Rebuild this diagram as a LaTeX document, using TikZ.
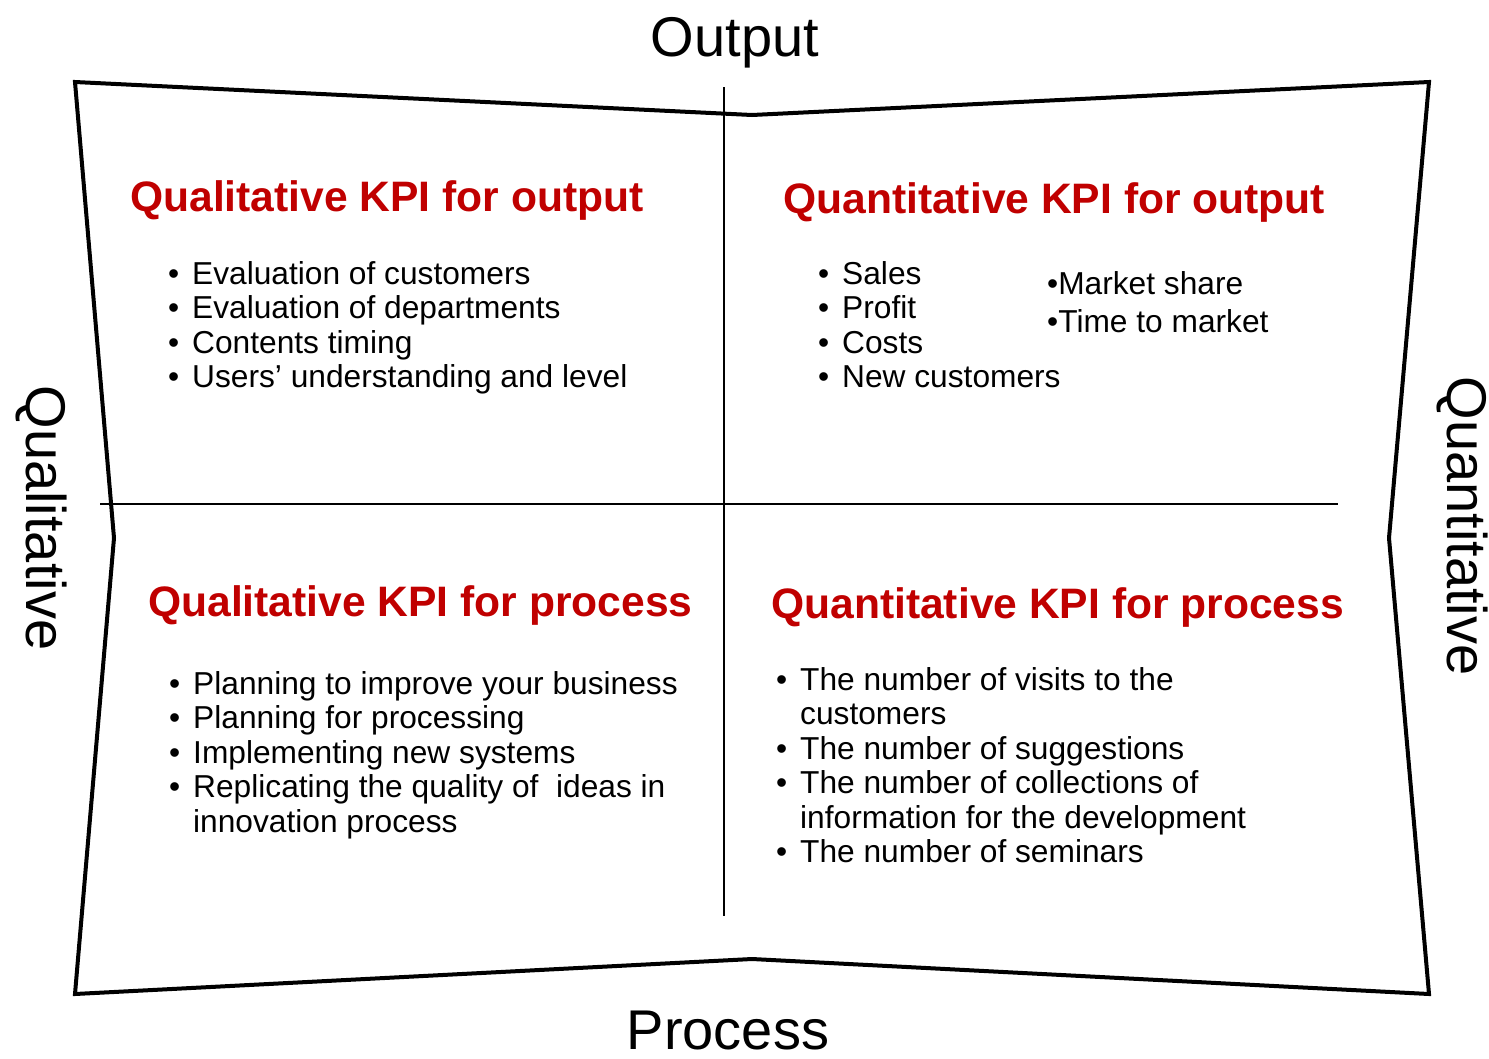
\documentclass[tikz,border=0pt]{standalone}
\usepackage{fontspec}
\setmainfont{Liberation Sans}
\definecolor{kpired}{HTML}{C00000}
% bullet hanging to the left of a list line
\newcommand{\bl}{\llap{\textbullet\hspace{13pt}}}
\newcommand{\itemlist}[1]{\begin{tabular}[t]{@{}l@{}}#1\end{tabular}}
\tikzset{
  frame/.style={line width=4pt, line join=miter},
  axisline/.style={line width=2.2pt},
  title/.style={anchor=base west, inner sep=0pt, text=kpired,
    font=\fontsize{42.6}{50}\selectfont\bfseries},
  items/.style={anchor=base west, inner sep=0pt,
    font=\fontsize{31.7}{34.5}\selectfont},
  side/.style={inner sep=0pt, font=\fontsize{56}{60}\selectfont},
}
\begin{document}
\begin{tikzpicture}[x=1pt, y=-1pt]
\useasboundingbox (0,0) rectangle (1489,1058);

% outer pinched frame
\coordinate (tl) at (75,82);
\coordinate (tm) at (752,115);
\coordinate (tr) at (1429,82);
\coordinate (rm) at (1389,538);
\coordinate (br) at (1429,994);
\coordinate (bm) at (752,959);
\coordinate (bl) at (75,994);
\coordinate (lm) at (114,538);
\draw[frame] (tl) -- (tm) -- (tr) -- (rm) -- (br) -- (bm) -- (bl) -- (lm) -- cycle;

% quadrant axes
\coordinate (vtop) at (724,87);
\coordinate (vbot) at (724,916);
\coordinate (hleft) at (100,504);
\coordinate (hright) at (1338,504);
\draw[axisline] (vtop) -- (vbot);
\draw[axisline] (hleft) -- (hright);

% side labels
\node[side, anchor=base] (output) at (735,56) {Output};
\node[side, anchor=base] (process) at (728,1049) {Process};
\node[side, rotate=-90] (qualitative) at (41,518) {Qualitative};
\node[side, rotate=-90] (quantitative) at (1462,526) {Quantitative};

% top left quadrant
\node[title] (qlout) at (130,211) {Qualitative KPI for output};
\node[items] (qloutlist) at (192,284) {\itemlist{%
  \bl Evaluation of customers\\
  \bl Evaluation of departments\\
  \bl Contents timing\\
  \bl Users’ understanding and level}};

% top right quadrant
\node[title] (qnout) at (783,213) {Quantitative KPI for output};
\node[items] (qnoutlist) at (842,284) {\itemlist{%
  \bl Sales\\
  \bl Profit\\
  \bl Costs\\
  \bl New customers}};
\node[items, font=\fontsize{31.7}{38}\selectfont] (qnoutextra) at (1047,294) {\itemlist{%
  \textbullet Market share\\
  \textbullet Time to market}};

% bottom left quadrant
\node[title] (qlproc) at (148,616) {Qualitative KPI for process};
\node[items] (qlproclist) at (193,694) {\itemlist{%
  \bl Planning to improve your business\\
  \bl Planning for processing\\
  \bl Implementing new systems\\
  \bl Replicating the quality of\ \ ideas in\\
  innovation process}};

% bottom right quadrant
\node[title] (qnproc) at (771,618) {Quantitative KPI for process};
\node[items] (qnproclist) at (800,690) {\itemlist{%
  \bl The number of visits to the\\
  customers\\
  \bl The number of suggestions\\
  \bl The number of collections of\\
  information for the development\\
  \bl The number of seminars}};
\end{tikzpicture}
\end{document}
